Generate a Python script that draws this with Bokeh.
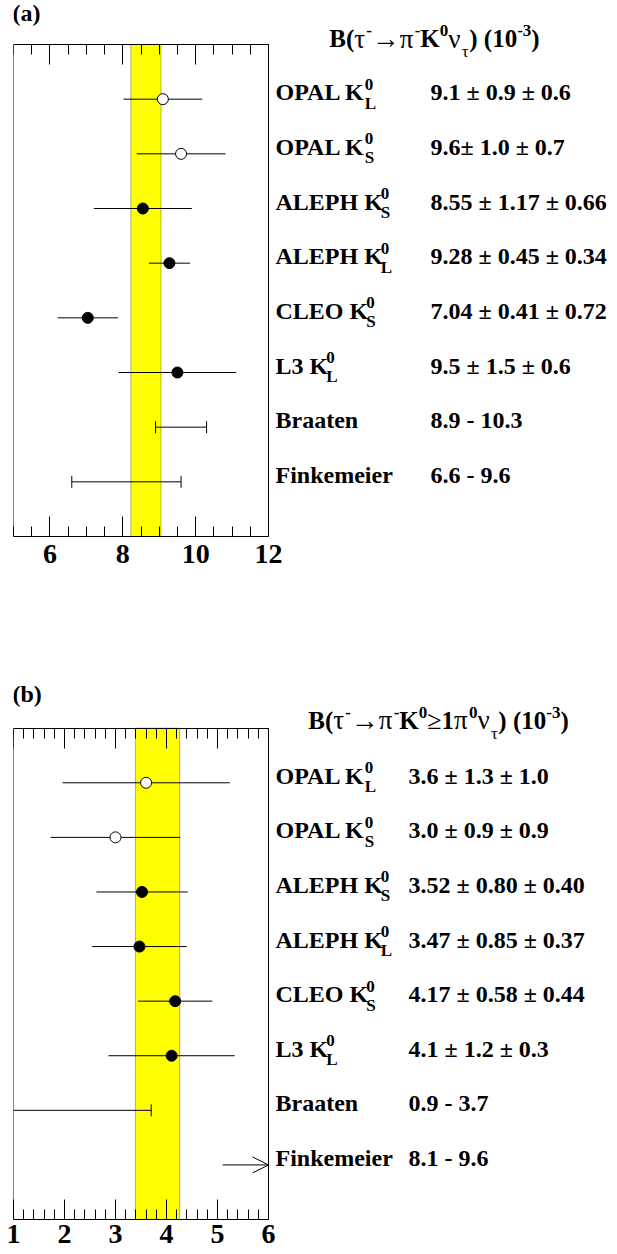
import numpy as np
from bokeh.plotting import figure
from bokeh.layouts import column
from bokeh.models import LinearAxis, FixedTicker, Label, BoxAnnotation, Arrow, OpenHead, ColumnDataSource
from bokeh.embed import file_html
from bokeh.resources import INLINE

# ---------------- panel (a): B(tau- -> pi- K0 nu) (10^-3) ----------------
a_names = ["OPAL", "OPAL", "ALEPH", "ALEPH", "CLEO", "L3"]
a_kaon = ["L", "S", "S", "L", "S", "L"]
a_value = [9.1, 9.6, 8.55, 9.28, 7.04, 9.5]
a_stat = [0.9, 1.0, 1.17, 0.45, 0.41, 1.5]
a_syst = [0.6, 0.7, 0.66, 0.34, 0.72, 0.6]
a_open = [True, True, False, False, False, False]
a_text = ["9.1 ± 0.9 ± 0.6", "9.6± 1.0 ± 0.7", "8.55 ± 1.17 ± 0.66",
          "9.28 ± 0.45 ± 0.34", "7.04 ± 0.41 ± 0.72", "9.5 ± 1.5 ± 0.6"]
a_theory = ["Braaten", "Finkemeier"]
a_theory_lo = [8.9, 6.6]
a_theory_hi = [10.3, 9.6]
a_theory_text = ["8.9 - 10.3", "6.6 - 9.6"]
a_band = [8.22, 9.05]
a_range = [5, 12]
a_ticks = [6, 8, 10, 12]

# ---------------- panel (b): B(tau- -> pi- K0 >=1pi0 nu) (10^-3) ----------------
b_names = ["OPAL", "OPAL", "ALEPH", "ALEPH", "CLEO", "L3"]
b_kaon = ["L", "S", "S", "L", "S", "L"]
b_value = [3.6, 3.0, 3.52, 3.47, 4.17, 4.1]
b_stat = [1.3, 0.9, 0.80, 0.85, 0.58, 1.2]
b_syst = [1.0, 0.9, 0.40, 0.37, 0.44, 0.3]
b_open = [True, True, False, False, False, False]
b_text = ["3.6 ± 1.3 ± 1.0", "3.0 ± 0.9 ± 0.9", "3.52 ± 0.80 ± 0.40",
          "3.47 ± 0.85 ± 0.37", "4.17 ± 0.58 ± 0.44", "4.1 ± 1.2 ± 0.3"]
b_theory = ["Braaten", "Finkemeier"]
b_theory_lo = [0.9, 8.1]
b_theory_hi = [3.7, 9.6]
b_theory_text = ["0.9 - 3.7", "8.1 - 9.6"]
b_band = [3.39, 4.26]
b_range = [1, 6]
b_ticks = [1, 2, 3, 4, 5, 6]

FONT = "Liberation Serif"
BOLD = {' ': 250, '(': 333, ')': 333, '-': 333, '.': 250, '±': 549,
        'A': 722, 'B': 667, 'C': 722, 'E': 667, 'F': 611, 'H': 778, 'K': 778,
        'L': 667, 'O': 778, 'P': 611, 'S': 556, 'a': 500, 'b': 556, 'e': 444,
        'i': 278, 'k': 556, 'm': 833, 'n': 556, 'r': 444, 't': 333}
for d in "0123456789":
    BOLD[d] = 500
GREEK = {'τ': 440, 'π': 550, 'ν': 500, '→': 1000, '≥': 549}

# layout in pixels
W = 617
BOX_L, BOX_R = 13, 268      # plot box, page x
FRAME_R = 617               # right edge of drawing frame
SIZE, SMALL = 24, 17


def width(s, size):
    return sum(GREEK.get(c, BOLD.get(c, 500)) for c in s) * size / 1000.0


def put(p, x, y, xoff, yoff, text, size, style):
    p.add_layout(Label(x=x, y=y, x_units="data", y_units="data", x_offset=xoff, y_offset=yoff,
                       text=text, text_font=FONT, text_font_size=f"{size}px",
                       text_font_style=style, text_color="black",
                       text_baseline="alphabetic", text_align="left"))


def rich(p, x, y, xoff, yoff, pieces, size=SIZE, small=SMALL, rise=8, drop=11, draw=True):
    cur = xoff
    for piece in pieces:
        kind = piece[0]
        if kind == "n":
            s = piece[1]
            sz = piece[2] if len(piece) > 2 else size
            st = "normal" if any(c in GREEK for c in s) else "bold"
            if draw:
                put(p, x, y, cur, yoff, s, sz, st)
            cur += width(s, sz)
        elif kind in ("sup", "sub"):
            s = piece[1]
            st = "normal" if any(c in GREEK for c in s) else "bold"
            dy = rise if kind == "sup" else -drop
            if draw:
                put(p, x, y, cur, yoff + dy, s, small, st)
            cur += width(s, small)
        elif kind == "ss":
            sup, sub = piece[1], piece[2]
            cur -= 2
            if draw:
                put(p, x, y, cur, yoff + rise, sup, small, "bold")
                put(p, x, y, cur, yoff - drop, sub, small, "bold")
            cur += max(width(sup, small), width(sub, small))
    return cur - xoff


def edge_axis(fixed, bounds):
    return LinearAxis(ticker=FixedTicker(ticks=[]), fixed_location=fixed, bounds=bounds,
                      major_tick_in=0, major_tick_out=0, minor_tick_in=0, minor_tick_out=0,
                      axis_line_color="black", axis_line_width=1,
                      major_label_standoff=0)


def make_panel(xr, ticks, minor, height, page_top, box_top, box_bot, names, kaon, vals, stat, syst,
               opn, texts, th_names, th_lo, th_hi, th_text, band, title_pieces, title_center,
               title_dy, tag, tag_off, val_off, standoff):
    xpx = (BOX_R - BOX_L) / (xr[1] - xr[0])
    ypx = (box_bot - box_top) / 9.0
    x_hi = xr[0] + (FRAME_R - BOX_L) / xpx
    y_hi = 9 + (box_top - page_top) / ypx
    p = figure(width=W, height=height, x_range=(xr[0], x_hi), y_range=(0, y_hi),
               x_axis_location=None, y_axis_location=None,
               toolbar_location=None, output_backend="svg",
               min_border_left=BOX_L, min_border_right=W - FRAME_R,
               min_border_top=0, min_border_bottom=height - (box_bot - page_top))
    p.outline_line_color = None
    p.background_fill_color = "white"
    p.border_fill_color = "white"
    try:
        p.grid.visible = False
    except Exception:
        pass

    for loc in ("below", "above"):
        ax = LinearAxis(ticker=FixedTicker(ticks=ticks, minor_ticks=list(minor)),
                        bounds=(xr[0], xr[1]),
                        major_tick_in=20, major_tick_out=0,
                        minor_tick_in=10, minor_tick_out=0,
                        major_tick_line_color="black", minor_tick_line_color="black",
                        axis_line_color="black",
                        major_label_text_font=FONT, major_label_text_font_style="bold",
                        major_label_text_font_size="28px", major_label_standoff=standoff,
                        major_label_text_color="black")
        if loc == "above":
            ax.fixed_location = 9
            ax.major_label_overrides = {t: "" for t in ticks}
            ax.major_label_standoff = 0
        p.add_layout(ax, loc)
    p.add_layout(edge_axis(xr[0], (0, 9)), "left")
    p.add_layout(edge_axis(xr[1], (0, 9)), "left")

    p.add_layout(BoxAnnotation(left=band[0], right=band[1], bottom=0, top=9,
                               fill_color="#ffff00", fill_alpha=1.0,
                               line_color="black", line_width=1, level="underlay"))

    n = len(vals)
    rows = [8 - i for i in range(n)]
    err = [float(np.hypot(a, b)) for a, b in zip(stat, syst)]
    src = ColumnDataSource(dict(
        y=rows, x=vals,
        lo=[v - e for v, e in zip(vals, err)], hi=[v + e for v, e in zip(vals, err)],
        fill=["white" if o else "black" for o in opn]))
    p.segment(x0="lo", x1="hi", y0="y", y1="y", source=src, line_color="black", line_width=1)
    p.scatter(x="x", y="y", source=src, size=11, fill_color="fill", line_color="black", line_width=1)

    th_rows = [8 - n - i for i in range(len(th_lo))]
    for r, lo, hi in zip(th_rows, th_lo, th_hi):
        if lo > xr[1]:
            p.add_layout(Arrow(end=OpenHead(size=16, line_color="black", line_width=1),
                               x_start=xr[1] - 0.9, y_start=r, x_end=xr[1], y_end=r,
                               line_color="black", line_width=1))
        else:
            lo_c = max(lo, xr[0])
            p.segment(x0=[lo_c], x1=[hi], y0=[r], y1=[r], line_color="black", line_width=1)
            caps = [c for c in (lo, hi) if xr[0] <= c <= xr[1]]
            p.scatter(x=caps, y=[r] * len(caps), marker="dash", angle=np.pi / 2, size=12,
                      line_color="black", line_width=1)

    xend = xr[1]
    for r, nm, k, t in zip(rows, names, kaon, texts):
        rich(p, xend, r, 7, 7, [("n", nm + " K"), ("ss", "0", k)])
        rich(p, xend, r, val_off, 7, [("n", t)])
    for r, nm, t in zip(th_rows, th_names, th_text):
        rich(p, xend, r, 7, 7, [("n", nm)])
        rich(p, xend, r, val_off, 7, [("n", t)])

    w = rich(p, xend, 9, 0, 0, title_pieces, size=25, draw=False, drop=13)
    rich(p, xend, 9, title_center - w / 2, title_dy, title_pieces, size=25, drop=13)

    put(p, xr[0], 9, -1, tag_off, tag, 24, "bold")
    return p


a_title = [("n", "B("), ("n", "τ", 27), ("sup", "-"), ("n", "→", 28), ("n", "π", 27), ("sup", "-"),
           ("n", "K"), ("sup", "0"), ("n", "ν", 27), ("sub", "τ"), ("n", ") (10"), ("sup", "-3"),
           ("n", ")")]
b_title = [("n", "B("), ("n", "τ", 27), ("sup", "-"), ("n", "→", 28), ("n", "π", 27), ("sup", "-"),
           ("n", "K"), ("sup", "0"), ("n", "≥", 26), ("n", "1"), ("n", "π", 27), ("sup", "0"),
           ("n", "ν", 27), ("sub", "τ"), ("n", ") (10"), ("sup", "-3"), ("n", ")")]

p1 = make_panel(a_range, a_ticks, np.arange(5, 12.001, 0.5), 640, 0, 44, 536,
                a_names, a_kaon, a_value, a_stat, a_syst, a_open, a_text,
                a_theory, a_theory_lo, a_theory_hi, a_theory_text, a_band,
                a_title, 166, 6, "(a)", 31.5, 162, 8)
p2 = make_panel(b_range, b_ticks, np.arange(1, 6.0001, 0.2), 614, 640, 727.7, 1219,
                b_names, b_kaon, b_value, b_stat, b_syst, b_open, b_text,
                b_theory, b_theory_lo, b_theory_hi, b_theory_text, b_band,
                b_title, 170, 8, "(b)", 34.5, 140, 5)

layout = column(p1, p2, spacing=0)
open("out.html", "w").write(file_html(layout, INLINE))
